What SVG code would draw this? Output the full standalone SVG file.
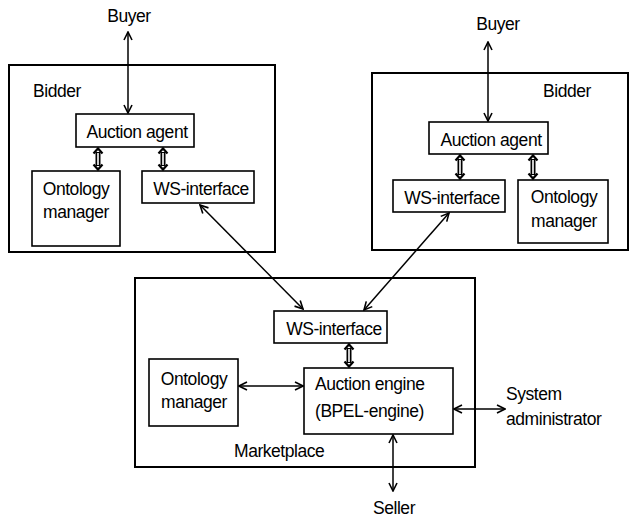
<svg xmlns="http://www.w3.org/2000/svg" width="632" height="517" viewBox="0 0 632 517">
<defs>
<style>
text{font-family:"Liberation Sans",Arial,sans-serif;font-size:17.5px;letter-spacing:-0.45px;fill:#000}
.c{text-anchor:middle}
.box{fill:#fff;stroke:#000;stroke-width:1.6}
.outer{fill:#fff;stroke:#000;stroke-width:2}
.ln{stroke:#000;stroke-width:1.5;fill:none}
.thk{stroke:#000;stroke-width:5;fill:none}
.thkw{stroke:#fff;stroke-width:1.6;fill:none}
.hd{stroke:#000;stroke-width:2.2;fill:none}
</style>
<marker id="ah" viewBox="0 0 10 10" refX="9" refY="5" markerWidth="10" markerHeight="10" markerUnits="userSpaceOnUse" orient="auto-start-reverse">
<path d="M1,1 L9,5 L1,9" fill="none" stroke="#000" stroke-width="1.6"/>
</marker>
</defs>
<rect width="632" height="517" fill="#fff"/>
<g id="bidder-left">
<rect class="outer" x="9" y="65" width="266" height="187"/>
<text x="33" y="97">Bidder</text>
</g>
<g id="bidder-right">
<rect class="outer" x="372" y="73" width="256" height="177"/>
<text x="543" y="97">Bidder</text>
</g>
<g id="marketplace">
<rect class="outer" x="135" y="278" width="340" height="189"/>
<text x="234" y="457">Marketplace</text>
</g>
<g id="buyer-left"><text class="c" x="129" y="22">Buyer</text></g>
<g id="buyer-right"><text class="c" x="498" y="30">Buyer</text></g>
<g id="seller"><text class="c" x="394" y="514">Seller</text></g>
<g id="sysadmin"><text x="506" y="400">System</text><text x="506" y="425">administrator</text></g>
<g id="agent-left"><rect class="box" x="76" y="114" width="118" height="33"/><text class="c" x="137" y="138">Auction agent</text></g>
<g id="onto-left"><rect class="box" x="32" y="171" width="88" height="75"/><text class="c" x="76" y="195">Ontology</text><text class="c" x="76" y="218">manager</text></g>
<g id="ws-left"><rect class="box" x="142" y="171" width="112" height="32"/><text class="c" x="201" y="195">WS-interface</text></g>
<g id="agent-right"><rect class="box" x="429" y="122" width="119" height="32"/><text class="c" x="491" y="146">Auction agent</text></g>
<g id="ws-right"><rect class="box" x="393" y="180" width="112" height="32"/><text class="c" x="452" y="204">WS-interface</text></g>
<g id="onto-right"><rect class="box" x="518" y="180" width="90" height="63"/><text class="c" x="564" y="203">Ontology</text><text class="c" x="564" y="227">manager</text></g>
<g id="ws-mp"><rect class="box" x="274" y="311" width="113" height="32"/><text class="c" x="334" y="335">WS-interface</text></g>
<g id="onto-mp"><rect class="box" x="149" y="359" width="89" height="67"/><text class="c" x="194" y="385">Ontology</text><text class="c" x="194" y="408">manager</text></g>
<g id="engine"><rect class="box" x="304" y="368" width="149" height="66"/><text x="315" y="390">Auction engine</text><text x="315" y="417">(BPEL-engine)</text></g>
<g id="connectors">
<line class="ln" x1="128" y1="32" x2="128" y2="113" marker-start="url(#ah)" marker-end="url(#ah)"/>
<line class="ln" x1="488" y1="42" x2="488" y2="121" marker-start="url(#ah)" marker-end="url(#ah)"/>
<line class="ln" x1="200" y1="205" x2="303" y2="309" stroke-width="1.3" marker-start="url(#ah)" marker-end="url(#ah)"/>
<line class="ln" x1="449" y1="213" x2="364" y2="310" stroke-width="2" marker-start="url(#ah)" marker-end="url(#ah)"/>
<line class="ln" x1="239" y1="386" x2="303" y2="386" marker-start="url(#ah)" marker-end="url(#ah)"/>
<line class="ln" x1="454" y1="409" x2="505" y2="409" marker-start="url(#ah)" marker-end="url(#ah)"/>
<line class="ln" x1="393" y1="435" x2="393" y2="491" marker-start="url(#ah)" marker-end="url(#ah)"/>
<g id="dbl">
<line class="thk" x1="98" y1="152" x2="98" y2="166"/><line class="thkw" x1="98" y1="153" x2="98" y2="165"/>
<path class="hd" d="M93.5,153.5 L98,148.5 L102.5,153.5 M93.5,164.5 L98,169.5 L102.5,164.5"/>
<line class="thk" x1="163" y1="152" x2="163" y2="166"/><line class="thkw" x1="163" y1="153" x2="163" y2="165"/>
<path class="hd" d="M158.5,153.5 L163,148.5 L167.5,153.5 M158.5,164.5 L163,169.5 L167.5,164.5"/>
<line class="thk" x1="460" y1="159" x2="460" y2="175"/><line class="thkw" x1="460" y1="160" x2="460" y2="174"/>
<path class="hd" d="M455.5,160.5 L460,155.5 L464.5,160.5 M455.5,173.5 L460,178.5 L464.5,173.5"/>
<line class="thk" x1="533" y1="159" x2="533" y2="175"/><line class="thkw" x1="533" y1="160" x2="533" y2="174"/>
<path class="hd" d="M528.5,160.5 L533,155.5 L537.5,160.5 M528.5,173.5 L533,178.5 L537.5,173.5"/>
<line class="thk" x1="349" y1="348" x2="349" y2="363"/><line class="thkw" x1="349" y1="349" x2="349" y2="362"/>
<path class="hd" d="M344.5,349.5 L349,344.5 L353.5,349.5 M344.5,361.5 L349,366.5 L353.5,361.5"/>
</g>
</g>
</svg>
